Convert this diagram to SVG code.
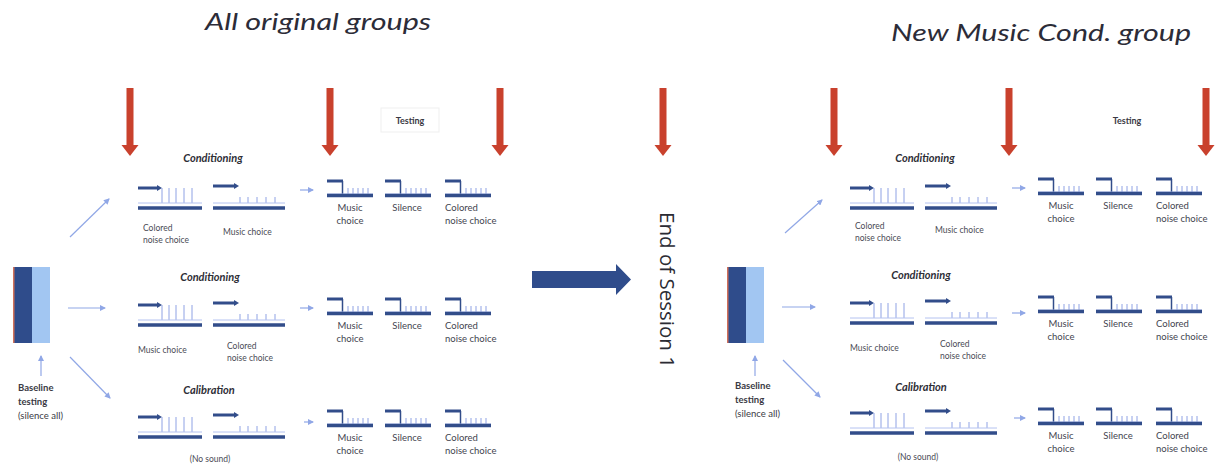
<svg xmlns="http://www.w3.org/2000/svg" xmlns:xlink="http://www.w3.org/1999/xlink" width="1217" height="468" viewBox="0 0 1217 468">
  <style>
    .title { font-family: Lato, "Open Sans", sans-serif; font-style: italic; font-size: 24px; fill: #2c2c38; }
    .phase { font-family: Lato, "Open Sans", sans-serif; font-style: italic; font-weight: bold; font-size: 11px; fill: #2e2e36; }
    .lbl { font-family: Lato, "Open Sans", sans-serif; font-size: 8.5px; fill: #4a4a55; }
    .tlbl { font-family: Lato, "Open Sans", sans-serif; font-size: 9.5px; fill: #44444f; }
    .base { font-family: Lato, "Open Sans", sans-serif; font-size: 9.5px; fill: #3a3a44; }
    .bold { font-weight: bold; }
    .testing { font-family: Lato, "Open Sans", sans-serif; font-weight: bold; font-size: 9px; fill: #3a3a44; }
    .session { font-family: "Open Sans", Lato, sans-serif; font-size: 20px; fill: #2b2b33; }
    .dark { stroke: #324d8a; fill: none; }
    .thin { stroke: #8fa2e4; stroke-width: 1; fill: none; }
    .link { stroke: #90a7e6; stroke-width: 1.2; fill: none; marker-end: url(#tip); }
    .red { fill: #c9412d; }
  </style>
  <defs>
    <marker id="tip" viewBox="0 0 6 6" refX="5" refY="3" markerWidth="5" markerHeight="5" orient="auto">
      <path d="M0,0 L6,3 L0,6 z" fill="#90a7e6"/>
    </marker>
    <!-- red timing marker: shaft plus head, tip at (0,68) -->
    <g id="redArrow">
      <rect class="red" x="-3.5" y="0" width="7" height="58"/>
      <polygon class="red" points="-8.5,57 8.5,57 0,68"/>
    </g>
    <!-- conditioning trace with tall stimulus spikes -->
    <g id="icoTall">
      <line class="dark" x1="0" y1="0" x2="20" y2="0" stroke-width="3"/>
      <polygon points="19,-3 24,0 19,3" fill="#324d8a"/>
      <line class="thin" x1="24" y1="0" x2="24" y2="15"/>
      <line class="thin" x1="31" y1="0" x2="31" y2="15"/>
      <line class="thin" x1="38" y1="0" x2="38" y2="15"/>
      <line class="thin" x1="46" y1="0" x2="46" y2="15"/>
      <line class="thin" x1="54" y1="0" x2="54" y2="15"/>
      <line x1="0" y1="15" x2="64" y2="15" stroke="#b4c2f0" stroke-width="1"/>
      <line class="dark" x1="0" y1="20" x2="64" y2="20" stroke-width="3.5"/>
    </g>
    <!-- conditioning trace with short stimulus spikes -->
    <g id="icoShort">
      <line class="dark" x1="0" y1="-2" x2="22" y2="-2" stroke-width="3"/>
      <polygon points="21,-5 26,-2 21,1" fill="#324d8a"/>
      <line class="thin" x1="27" y1="9" x2="27" y2="15"/>
      <line class="thin" x1="35" y1="9" x2="35" y2="15"/>
      <line class="thin" x1="44" y1="9" x2="44" y2="15"/>
      <line class="thin" x1="53" y1="9" x2="53" y2="15"/>
      <line class="thin" x1="62" y1="9" x2="62" y2="15"/>
      <line x1="0" y1="15" x2="72" y2="15" stroke="#b4c2f0" stroke-width="1"/>
      <line class="dark" x1="0" y1="20" x2="72" y2="20" stroke-width="3.5"/>
    </g>
    <!-- testing trace -->
    <g id="icoTest">
      <line class="dark" x1="0" y1="0" x2="16" y2="0" stroke-width="3"/>
      <line class="dark" x1="15.5" y1="0" x2="15.5" y2="13" stroke-width="1.5"/>
      <line class="thin" x1="21" y1="7" x2="21" y2="13"/>
      <line class="thin" x1="26" y1="7" x2="26" y2="13"/>
      <line class="thin" x1="31" y1="7" x2="31" y2="13"/>
      <line class="thin" x1="36" y1="7" x2="36" y2="13"/>
      <line class="thin" x1="41" y1="7" x2="41" y2="13"/>
      <line x1="0" y1="13" x2="46" y2="13" stroke="#b4c2f0" stroke-width="1"/>
      <line class="dark" x1="0" y1="14.5" x2="46" y2="14.5" stroke-width="3.5"/>
    </g>
    <!-- baseline block -->
    <g id="block">
      <rect x="0" y="0" width="19" height="76" fill="#2f4c8b"/>
      <rect x="19" y="0" width="18" height="76" fill="#a2c6f2"/>
      <rect x="0" y="0" width="1.5" height="76" fill="#d0705a"/>
    </g>
    <!-- three testing traces with labels -->
    <g id="testSet">
      <use xlink:href="#icoTest" x="0" y="0"/>
      <use xlink:href="#icoTest" x="58" y="0"/>
      <use xlink:href="#icoTest" x="118" y="0"/>
      <text class="tlbl" x="23" y="30" text-anchor="middle">Music</text>
      <text class="tlbl" x="23" y="43" text-anchor="middle">choice</text>
      <text class="tlbl" x="80" y="30" text-anchor="middle">Silence</text>
      <text class="tlbl" x="118" y="30">Colored</text>
      <text class="tlbl" x="118" y="43">noise choice</text>
    </g>
  </defs>

  <rect width="1217" height="468" fill="#ffffff"/>

  <!-- headings -->
  <g id="headings">
    <text class="title" x="205" y="30" textLength="226" lengthAdjust="spacingAndGlyphs">All original groups</text>
    <text class="title" x="891" y="41" textLength="300" lengthAdjust="spacingAndGlyphs">New Music Cond. group</text>
  </g>

  <!-- timing markers -->
  <g id="markers">
    <use xlink:href="#redArrow" x="130" y="88"/>
    <use xlink:href="#redArrow" x="330" y="88"/>
    <use xlink:href="#redArrow" x="500" y="88"/>
    <use xlink:href="#redArrow" x="663" y="88"/>
    <use xlink:href="#redArrow" x="834" y="88"/>
    <use xlink:href="#redArrow" x="1009" y="88"/>
    <use xlink:href="#redArrow" x="1206" y="88"/>
  </g>

  <g id="testing-left">
    <rect x="381" y="108" width="58" height="24" fill="none" stroke="#efefef" stroke-width="1"/>
    <text class="testing" x="410" y="124" text-anchor="middle">Testing</text>
  </g>
  <g id="testing-right">
    <text class="testing" x="1127" y="124" text-anchor="middle">Testing</text>
  </g>

  <!-- ===== session 1 ===== -->
  <g id="baseline-left">
    <use xlink:href="#block" x="13" y="267"/>
    <text class="base bold" x="18" y="391">Baseline</text>
    <text class="base bold" x="18" y="405">testing</text>
    <text class="base" x="18" y="419">(silence all)</text>
  </g>

  <g id="cond1-left">
    <text class="phase" x="213" y="162" text-anchor="middle">Conditioning</text>
    <use xlink:href="#icoTall" x="138" y="188"/>
    <use xlink:href="#icoShort" x="213" y="188"/>
    <text class="lbl" x="143" y="231">Colored</text>
    <text class="lbl" x="143" y="243">noise choice</text>
    <text class="lbl" x="223" y="235">Music choice</text>
  </g>
  <g id="test1-left"><use xlink:href="#testSet" x="327" y="181"/></g>

  <g id="cond2-left">
    <text class="phase" x="210" y="281" text-anchor="middle">Conditioning</text>
    <use xlink:href="#icoTall" x="138" y="305"/>
    <use xlink:href="#icoShort" x="213" y="305"/>
    <text class="lbl" x="138" y="353">Music choice</text>
    <text class="lbl" x="227" y="349">Colored</text>
    <text class="lbl" x="227" y="361">noise choice</text>
  </g>
  <g id="test2-left"><use xlink:href="#testSet" x="327" y="299"/></g>

  <g id="calib-left">
    <text class="phase" x="209" y="394" text-anchor="middle">Calibration</text>
    <use xlink:href="#icoTall" x="138" y="417"/>
    <use xlink:href="#icoShort" x="213" y="417"/>
    <text class="lbl" x="210" y="462" text-anchor="middle">(No sound)</text>
  </g>
  <g id="test3-left"><use xlink:href="#testSet" x="327" y="411"/></g>

  <!-- session change -->
  <g id="session-break">
    <polygon points="532,271 616,271 616,264 631,279.5 616,295 616,288 532,288" fill="#2f4c8b"/>
    <text class="session" transform="translate(660,212) rotate(90)" textLength="156" lengthAdjust="spacingAndGlyphs">End of Session 1</text>
  </g>

  <!-- ===== session 2 ===== -->
  <g id="baseline-right">
    <use xlink:href="#block" x="727" y="267"/>
    <text class="base bold" x="735" y="389">Baseline</text>
    <text class="base bold" x="735" y="403">testing</text>
    <text class="base" x="735" y="417">(silence all)</text>
  </g>

  <g id="cond1-right">
    <text class="phase" x="925" y="162" text-anchor="middle">Conditioning</text>
    <use xlink:href="#icoTall" x="850" y="188"/>
    <use xlink:href="#icoShort" x="925" y="188"/>
    <text class="lbl" x="855" y="229">Colored</text>
    <text class="lbl" x="855" y="241">noise choice</text>
    <text class="lbl" x="935" y="233">Music choice</text>
  </g>
  <g id="test1-right"><use xlink:href="#testSet" x="1038" y="179"/></g>

  <g id="cond2-right">
    <text class="phase" x="921" y="279" text-anchor="middle">Conditioning</text>
    <use xlink:href="#icoTall" x="850" y="303"/>
    <use xlink:href="#icoShort" x="925" y="303"/>
    <text class="lbl" x="850" y="351">Music choice</text>
    <text class="lbl" x="940" y="347">Colored</text>
    <text class="lbl" x="940" y="359">noise choice</text>
  </g>
  <g id="test2-right"><use xlink:href="#testSet" x="1038" y="297"/></g>

  <g id="calib-right">
    <text class="phase" x="921" y="391" text-anchor="middle">Calibration</text>
    <use xlink:href="#icoTall" x="850" y="413"/>
    <use xlink:href="#icoShort" x="925" y="413"/>
    <text class="lbl" x="918" y="460" text-anchor="middle">(No sound)</text>
  </g>
  <g id="test3-right"><use xlink:href="#testSet" x="1038" y="409"/></g>

  <!-- connectors -->
  <g id="connectors">
    <line class="link" x1="41" y1="376" x2="41" y2="356"/>
    <line class="link" x1="70" y1="237" x2="109" y2="199"/>
    <line class="link" x1="68" y1="308" x2="105" y2="308"/>
    <line class="link" x1="70" y1="357" x2="110" y2="398"/>
    <line class="link" x1="300" y1="190" x2="313" y2="190"/>
    <line class="link" x1="300" y1="308" x2="313" y2="308"/>
    <line class="link" x1="304" y1="422" x2="313" y2="422"/>

    <line class="link" x1="755" y1="376" x2="755" y2="356"/>
    <line class="link" x1="785" y1="233" x2="822" y2="200"/>
    <line class="link" x1="782" y1="307" x2="815" y2="307"/>
    <line class="link" x1="783" y1="360" x2="820" y2="397"/>
    <line class="link" x1="1012" y1="188" x2="1025" y2="188"/>
    <line class="link" x1="1012" y1="313" x2="1025" y2="313"/>
    <line class="link" x1="1014" y1="418" x2="1025" y2="418"/>
  </g>
</svg>
